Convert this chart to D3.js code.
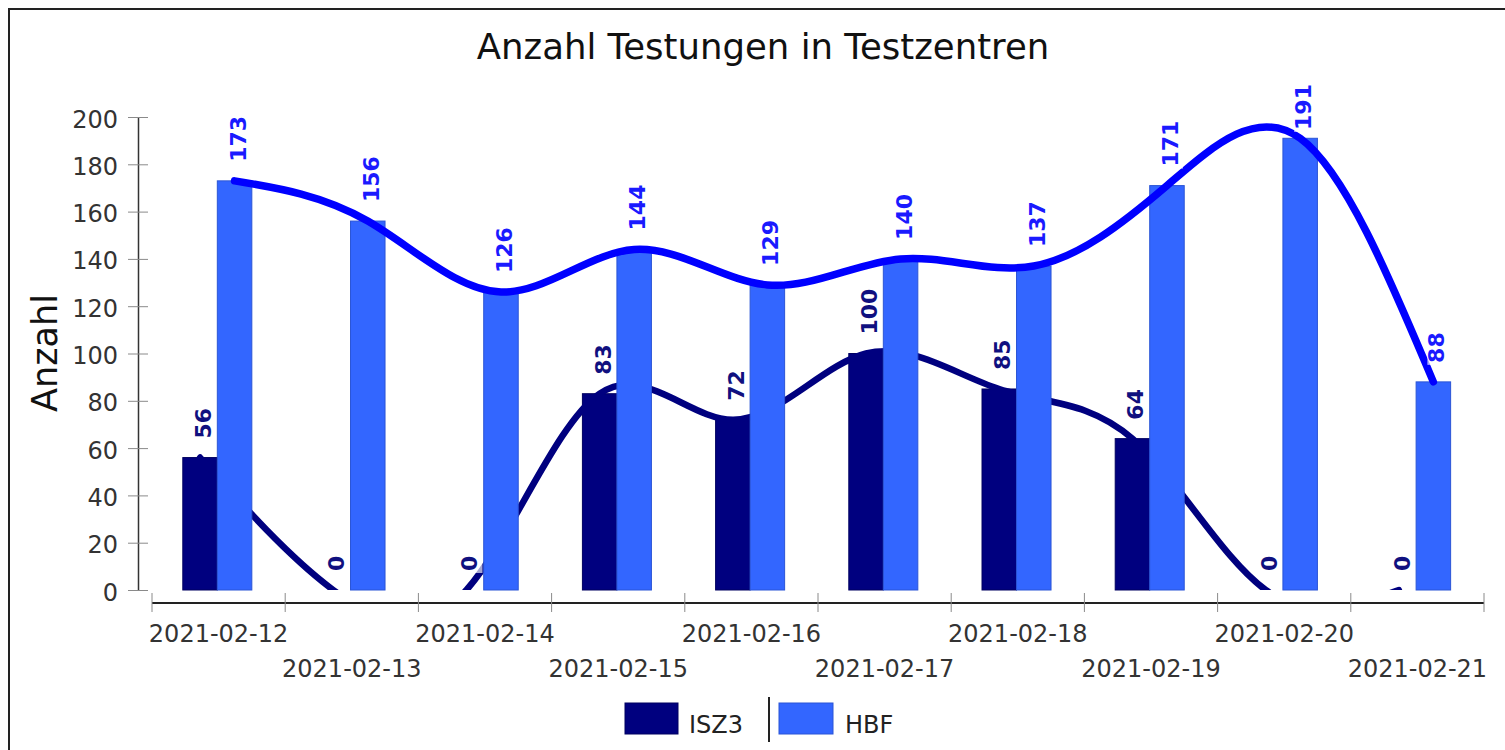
<!DOCTYPE html>
<html>
<head>
<meta charset="utf-8">
<script src="https://cdn.jsdelivr.net/npm/d3@7"></script>
<style>
  body { margin: 0; background: #fff; }
  svg { display: block; font-family: "DejaVu Sans", sans-serif; }
</style>
</head>
<body>
<script>
// data
var dates = ["2021-02-12", "2021-02-13", "2021-02-14", "2021-02-15", "2021-02-16",
             "2021-02-17", "2021-02-18", "2021-02-19", "2021-02-20", "2021-02-21"];
var isz3 = [56, 0, 0, 83, 72, 100, 85, 64, 0, 0];
var hbf = [173, 156, 126, 144, 129, 140, 137, 171, 191, 88];
var seriesNames = ["ISZ3", "HBF"];
var yTicks = [0, 20, 40, 60, 80, 100, 120, 140, 160, 180, 200];

var barColor = { ISZ3: "#00007f", HBF: "#3366ff" };
var barStroke = { ISZ3: "#000060", HBF: "#2b55d6" };
var lineColor = { ISZ3: "#00007f", HBF: "#0000ff" };
var labelColor = { ISZ3: "#10107f", HBF: "#1a1aff" };

var svg = d3.select("body").append("svg")
  .attr("width", 1505)
  .attr("height", 750);

// outer frame
svg.append("rect")
  .attr("x", 9).attr("y", 9)
  .attr("width", 1520).attr("height", 760)
  .attr("fill", "none").attr("stroke", "#222").attr("stroke-width", 2);

// title
svg.append("text")
  .attr("x", 763).attr("y", 59)
  .attr("text-anchor", "middle")
  .style("font-size", "35.5px")
  .attr("fill", "#111")
  .text("Anzahl Testungen in Testzentren");

var plotTop = 117, plotBottom = 590, plotLeft = 152, plotRight = 1484;

var x = d3.scaleBand().domain(dates).range([plotLeft, plotRight]).padding(0);
var xs = d3.scaleBand().domain(seriesNames).range([0, x.bandwidth()])
  .paddingInner(0).paddingOuter(0.93).align(0.48);
var y = d3.scaleLinear().domain([0, 200]).range([plotBottom, plotTop]);

var values = { ISZ3: isz3, HBF: hbf };
function cx(name, i) { return x(dates[i]) + xs(name) + xs.bandwidth() / 2; }

// y axis
var yAxis = svg.append("g")
  .attr("transform", "translate(138,0)")
  .call(d3.axisLeft(y).tickValues(yTicks).tickSizeInner(10).tickSizeOuter(0).tickPadding(10));
yAxis.select(".domain").attr("stroke", "#333").attr("stroke-width", 1.5);
yAxis.selectAll(".tick line").attr("x1", 10).attr("x2", -10).attr("stroke", "#8a8a8a");
yAxis.selectAll(".tick text")
  .attr("dy", "0.42em")
  .attr("fill", "#333")
  .style("font-size", "24px")
  .style("font-family", "DejaVu Sans, sans-serif");

svg.append("text")
  .attr("transform", "translate(57,353) rotate(-90)")
  .attr("text-anchor", "middle")
  .style("font-size", "35px")
  .attr("fill", "#111")
  .text("Anzahl");

// x axis (category)
var xg = svg.append("g");
xg.append("line")
  .attr("x1", plotLeft).attr("x2", plotRight)
  .attr("y1", 603).attr("y2", 603)
  .attr("stroke", "#222").attr("stroke-width", 2);
var bounds = dates.map(function(d) { return x(d); }).concat([plotRight]);
xg.selectAll("line.tk").data(bounds).enter().append("line")
  .attr("class", "tk")
  .attr("x1", function(d) { return d; }).attr("x2", function(d) { return d; })
  .attr("y1", 593).attr("y2", 612)
  .attr("stroke", "#8a8a8a");
xg.selectAll("text").data(dates).enter().append("text")
  .attr("x", function(d) { return x(d) + x.bandwidth() / 2; })
  .attr("y", function(d, i) { return i % 2 === 0 ? 642 : 677; })
  .attr("text-anchor", "middle")
  .attr("fill", "#333")
  .style("font-size", "24px")
  .text(function(d) { return d; });

// clip for the spline lines
svg.append("clipPath").attr("id", "plotclip")
  .append("rect")
  .attr("x", plotLeft).attr("y", plotTop - 40)
  .attr("width", plotRight - plotLeft).attr("height", plotBottom - plotTop + 40);

function drawBars(name) {
  svg.append("g").selectAll("rect").data(values[name]).enter().append("rect")
    .attr("x", function(d, i) { return x(dates[i]) + xs(name); })
    .attr("y", function(d) { return y(d); })
    .attr("width", xs.bandwidth())
    .attr("height", function(d) { return y(0) - y(d); })
    .attr("fill", barColor[name])
    .attr("stroke", barStroke[name])
    .attr("stroke-width", 1);
}

function drawLine(name, w) {
  var line = d3.line()
    .x(function(d, i) { return cx(name, i); })
    .y(function(d) { return y(d); })
    .curve(d3.curveNatural);
  svg.append("path")
    .datum(values[name])
    .attr("clip-path", "url(#plotclip)")
    .attr("d", line)
    .attr("fill", "none")
    .attr("stroke", lineColor[name])
    .attr("stroke-width", w)
    .attr("stroke-linecap", "round");
}

drawBars("ISZ3");
drawLine("ISZ3", 6.5);
drawBars("HBF");
drawLine("HBF", 7.5);

// rotated value labels with a pale box behind them
seriesNames.forEach(function(name) {
  values[name].forEach(function(v, i) {
    var g = svg.append("g");
    var t = g.append("text")
      .attr("x", 0).attr("y", 0)
      .attr("fill", labelColor[name])
      .style("font-size", "22px")
      .style("font-weight", "bold")
      .text(v);
    var len = t.node().getComputedTextLength();
    var start = Math.max(y(v) - 19, 84 + len);
    g.attr("transform", "translate(" + (cx(name, i) + 11) + "," + start + ") rotate(-90)");
    var b = t.node().getBBox();
    g.insert("rect", "text")
      .attr("x", b.x - 2).attr("y", b.y + 3)
      .attr("width", b.width + 4).attr("height", b.height - 3)
      .attr("fill", "#fff").attr("fill-opacity", 0.65);
  });
});

// legend
var legend = svg.append("g");
legend.append("rect").attr("x", 625).attr("y", 703).attr("width", 53).attr("height", 31)
  .attr("fill", barColor.ISZ3).attr("stroke", barStroke.ISZ3);
legend.append("text").attr("x", 689).attr("y", 733).attr("fill", "#222")
  .style("font-size", "24px").text(seriesNames[0]);
legend.append("line").attr("x1", 769).attr("x2", 769).attr("y1", 697).attr("y2", 742)
  .attr("stroke", "#222").attr("stroke-width", 2);
legend.append("rect").attr("x", 779).attr("y", 703).attr("width", 54).attr("height", 31)
  .attr("fill", barColor.HBF).attr("stroke", barStroke.HBF);
legend.append("text").attr("x", 845).attr("y", 733).attr("fill", "#222")
  .style("font-size", "24px").text(seriesNames[1]);
</script>
</body>
</html>
